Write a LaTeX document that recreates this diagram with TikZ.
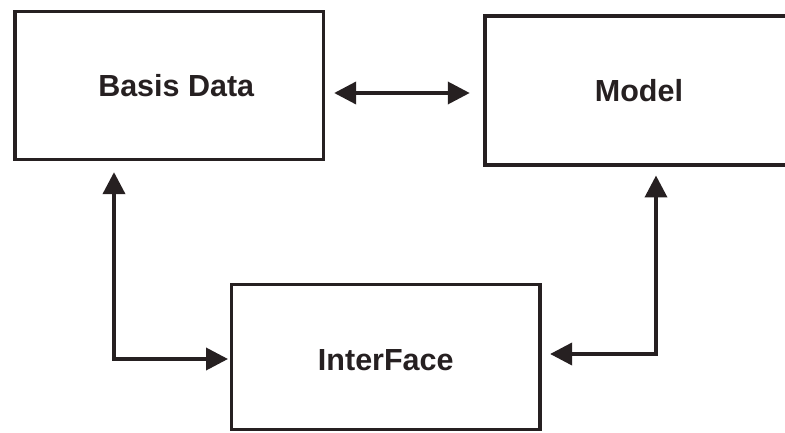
\documentclass[tikz,border=0pt]{standalone}
\usepackage{fontspec}
\setmainfont{Liberation Sans}
\usetikzlibrary{arrows.meta}
\definecolor{ink}{RGB}{38,32,33}
\begin{document}
\begin{tikzpicture}[x=1pt,y=-1pt,
  box/.style={draw=ink, line width=3.3pt, fill=white, inner sep=0pt,
    font=\bfseries\fontsize{30.5}{36}\selectfont, text=ink},
  arr/.style={draw=ink, line width=3.8pt, {Triangle[length=22pt,width=22pt]}-{Triangle[length=22pt,width=22pt]}}]
\useasboundingbox (0,0) rectangle (785,433);
\path[clip] (0,0) rectangle (785,433);
\node[box, minimum width=308.5pt, minimum height=148.2pt,
  label={[xshift=7pt, font=\bfseries\fontsize{30.5}{36}\selectfont, text=ink]center:Basis Data}]
  (basis) at (169.25,85.4) {};
\node[box, line width=4pt, minimum width=308pt, minimum height=149pt] (model) at (639,91) {Model};
\node[box, minimum width=308.3pt, minimum height=145.4pt,
  label={[yshift=-3.5pt, font=\bfseries\fontsize{30.5}{36}\selectfont, text=ink]center:InterFace}]
  (interface) at (385.8,357) {};
\draw[arr, shorten <=9pt, shorten >=13.25pt] ([yshift=-7.6pt]basis.east) -- ([yshift=-2pt]model.west);
\draw[arr, shorten <=11pt, shorten >=2pt] ([xshift=-55.25pt]basis.south) |- ([yshift=-2pt]interface.west);
\draw[arr, shorten <=8pt, shorten >=8.5pt] ([xshift=17pt]model.south) |- ([yshift=3pt]interface.east);
\end{tikzpicture}
\end{document}
